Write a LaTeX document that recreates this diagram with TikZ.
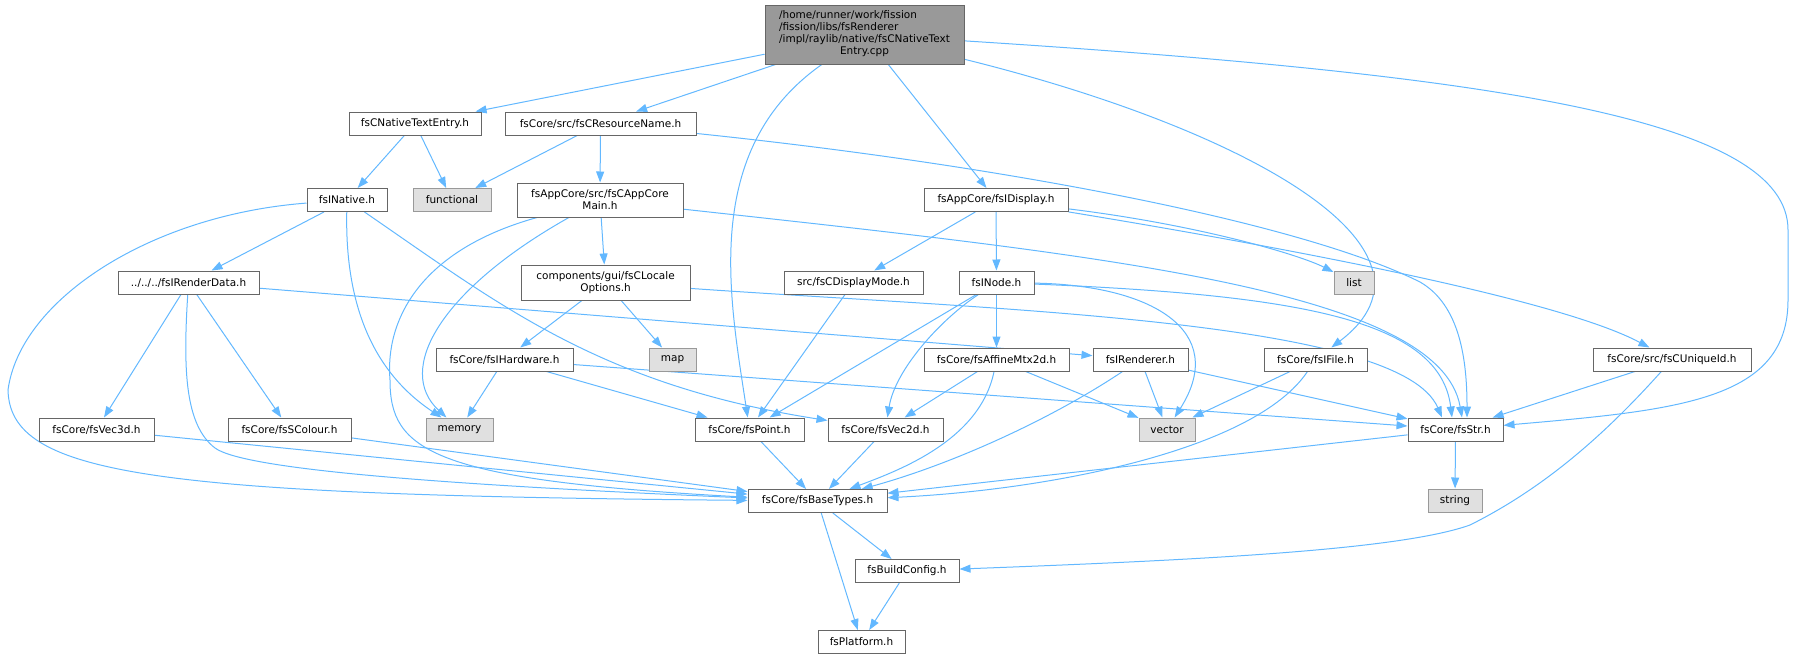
\documentclass[tikz,border=0pt]{standalone}
\usepackage{fontspec}
\setmainfont{DejaVu Sans}
\usetikzlibrary{arrows.meta,backgrounds}
\definecolor{edgeblue}{HTML}{63B8FF}
\definecolor{nodeborder}{HTML}{666666}
\definecolor{extborder}{HTML}{999999}
\definecolor{extfill}{HTML}{E0E0E0}
\definecolor{mainfill}{HTML}{999999}
\newcommand{\nodefont}{\fontsize{10.5}{12}\selectfont}
\tikzset{
  box/.style={draw=nodeborder, fill=white, line width=1pt, inner sep=0pt,
    minimum height=23pt, font=\nodefont, text=black, align=center},
  extbox/.style={box, draw=extborder, fill=extfill},
  mainbox/.style={box, fill=mainfill},
  edge/.style={draw=edgeblue, line width=1pt, -{Triangle[length=11pt,width=8pt]}}
}
\begin{document}
\begin{tikzpicture}[x=1pt,y=-1pt]
\useasboundingbox (0,0) rectangle (1795,659);
% nodes
\node[mainbox, minimum width=199pt, minimum height=59pt] (main) at (864.5,34.5)
  {\renewcommand{\arraystretch}{1}\begin{tabular}{@{}l@{}}/home/runner/work/fission\\/fission/libs/fsRenderer\\/impl/raylib/native/fsCNativeText\\\multicolumn{1}{@{}c@{}}{Entry.cpp}\end{tabular}};
\node[box, minimum width=132pt] (cnte) at (415,123.5) {fsCNativeTextEntry.h};
\node[box, minimum width=191pt] (crn) at (600.5,123.5) {fsCore/src/fsCResourceName.h};
\node[box, minimum width=80pt] (inat) at (347,200) {fsINative.h};
\node[extbox, minimum width=78pt] (func) at (452,200) {functional};
\node[box, minimum width=166pt, minimum height=34pt] (acm) at (600,200) {fsAppCore/src/fsCAppCore\\Main.h};
\node[box, minimum width=144pt] (disp) at (996,200) {fsAppCore/fsIDisplay.h};
\node[box, minimum width=141pt] (rdata) at (188.5,282.5) {../../../fsIRenderData.h};
\node[box, minimum width=169pt, minimum height=35pt] (loc) at (605.5,282.5) {components/gui/fsCLocale\\Options.h};
\node[box, minimum width=139pt] (dmode) at (853.5,282.5) {src/fsCDisplayMode.h};
\node[box, minimum width=75pt] (inode) at (996.5,282.5) {fsINode.h};
\node[extbox, minimum width=40pt] (list) at (1354,282.5) {list};
\node[box, minimum width=137pt] (hw) at (504.5,359.5) {fsCore/fsIHardware.h};
\node[extbox, minimum width=47pt] (map) at (672.5,359.5) {map};
\node[box, minimum width=145pt] (aff) at (996.5,359.5) {fsCore/fsAffineMtx2d.h};
\node[box, minimum width=95pt] (rend) at (1140.5,359.5) {fsIRenderer.h};
\node[box, minimum width=103pt] (ifile) at (1315.5,359.5) {fsCore/fsIFile.h};
\node[box, minimum width=158pt] (uid) at (1672,359.5) {fsCore/src/fsCUniqueId.h};
\node[box, minimum width=115pt] (v3) at (96.5,429.5) {fsCore/fsVec3d.h};
\node[box, minimum width=123pt] (scol) at (289.5,429.5) {fsCore/fsSColour.h};
\node[extbox, minimum width=67pt] (mem) at (459.5,429.5) {memory};
\node[box, minimum width=109pt] (pt) at (749.5,429.5) {fsCore/fsPoint.h};
\node[box, minimum width=115pt] (v2) at (885.5,429.5) {fsCore/fsVec2d.h};
\node[extbox, minimum width=56pt] (vec) at (1167,429.5) {vector};
\node[box, minimum width=95pt] (str) at (1455.5,429.5) {fsCore/fsStr.h};
\node[box, minimum width=139pt] (base) at (817.5,501) {fsCore/fsBaseTypes.h};
\node[extbox, minimum width=54pt] (strg) at (1455,500.5) {string};
\node[box, minimum width=104pt] (bcfg) at (907,571) {fsBuildConfig.h};
\node[box, minimum width=87pt] (plat) at (861.5,642) {fsPlatform.h};
\begin{scope}[on background layer]
% edges from main
\draw[edge] (main) -- (cnte);
\draw[edge] (main) -- (crn);
\draw[edge] (main) .. controls (700,150) and (730,300) .. (pt);
\draw[edge] (main) -- (disp);
\draw[edge] (main) .. controls (1250,130) and (1460,250) .. (ifile);
\draw[edge] (main) .. controls (1500,75) and (1788,120) .. (1788,230) -- (1788,300) .. controls (1788,400) and (1680,410) .. (str);
% fsCNativeTextEntry.h
\draw[edge] (cnte) -- (inat);
\draw[edge] (cnte) -- (func);
% fsCResourceName.h
\draw[edge] (crn) -- (func);
\draw[edge] (crn) -- (acm);
\draw[edge] (crn) .. controls (1000,165) and (1300,222) .. (1420,282) .. controls (1460,305) and (1467,360) .. ([xshift=11.5pt]str.north);
% fsCAppCoreMain.h
\draw[edge] (acm) -- (loc);
\draw[edge] (acm) .. controls (440,290) and (395,370) .. (mem);
\draw[edge] (acm) .. controls (420,250) and (385,320) .. (390,380) .. controls (390,450) and (430,480) .. (base);
\draw[edge] (acm) .. controls (1100,255) and (1440,290) .. ([xshift=6.5pt]str.north);
% fsCLocaleOptions.h
\draw[edge] (loc) -- (hw);
\draw[edge] (loc) -- (map);
\draw[edge] (loc) .. controls (1000,310) and (1400,320) .. ([xshift=-13.5pt]str.north);
% fsINative.h
\draw[edge] (inat) -- (rdata);
\draw[edge] (inat) .. controls (345,300) and (370,370) .. (mem);
\draw[edge] (inat) .. controls (150,215) and (20,300) .. (8,390) .. controls (10,475) and (150,495) .. (base);
\draw[edge] (inat) .. controls (500,305) and (600,385) .. (v2);
% fsIRenderData.h
\draw[edge] (rdata) -- (v3);
\draw[edge] (rdata) -- (scol);
\draw[edge] (rdata) .. controls (183,370) and (185,425) .. (215,448) .. controls (245,470) and (450,485) .. (base);
\draw[edge] (rdata) -- (rend);
% fsIDisplay.h
\draw[edge] (disp) -- (dmode);
\draw[edge] (disp) -- (inode);
\draw[edge] (disp) .. controls (1200,225) and (1300,255) .. (list);
\draw[edge] (disp) .. controls (1300,250) and (1560,300) .. (uid);
% fsCDisplayMode.h
\draw[edge] (dmode) -- (pt);
% fsINode.h
\draw[edge] (inode) -- (aff);
\draw[edge] (inode) -- (pt);
\draw[edge] (inode) .. controls (940,320) and (895,370) .. (v2);
\draw[edge] (inode) .. controls (1150,285) and (1230,330) .. (vec);
\draw[edge] (inode) .. controls (1300,295) and (1440,320) .. ([xshift=-3.5pt]str.north);
% fsIHardware.h
\draw[edge] (hw) -- (mem);
\draw[edge] (hw) -- (pt);
\draw[edge] (hw) -- (str);
% fsAffineMtx2d.h
\draw[edge] (aff) -- (v2);
\draw[edge] (aff) -- (vec);
\draw[edge] (aff) .. controls (980,440) and (900,470) .. (base);
% fsIRenderer.h
\draw[edge] (rend) -- (vec);
\draw[edge] (rend) -- (str);
\draw[edge] (rend) .. controls (1050,420) and (950,465) .. (base);
% fsIFile.h
\draw[edge] (ifile) -- (vec);
\draw[edge] (ifile) .. controls (1255,450) and (1050,490) .. (base);
% fsCUniqueId.h
\draw[edge] (uid) -- (str);
\draw[edge] (uid) .. controls (1600,440) and (1540,490) .. (1470,525) .. controls (1400,550) and (1200,560) .. (bcfg);
% lower level
\draw[edge] (v3) -- (base);
\draw[edge] (scol) -- (base);
\draw[edge] (pt) -- (base);
\draw[edge] (v2) -- (base);
\draw[edge] (str) -- (base);
\draw[edge] (str) -- (strg);
\draw[edge] (base) -- (bcfg);
\draw[edge] (base) -- (plat);
\draw[edge] (bcfg) -- (plat);
\end{scope}
\end{tikzpicture}
\end{document}
